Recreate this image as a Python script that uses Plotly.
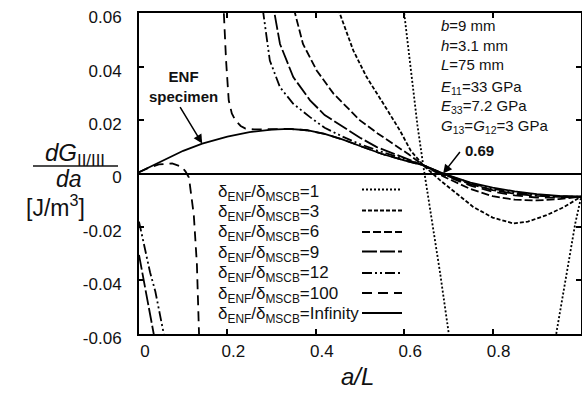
import plotly.graph_objects as go

N = None
# ---- data (a/L, dG/da) ----
x_r1 = [0.600, 0.615, 0.630, 0.643, 0.658, 0.681, 0.700, 0.706, N, 0.939, 0.945, 0.968, 0.987, 1.0]
y_r1 = [0.060, 0.038, 0.018, 0.0031, -0.0125, -0.037, -0.059, -0.066, N, -0.066, -0.059, -0.037, -0.0187, -0.0090]

x_r3 = [0.448, 0.454, 0.485, 0.515, 0.553, 0.590, 0.615, 0.643, 0.681, 0.720, 0.756, 0.800, 0.847, 0.880, 0.922, 0.960, 1.0]
y_r3 = [0.066, 0.060, 0.046, 0.0361, 0.0261, 0.0162, 0.0085, 0.0031, -0.0025, -0.0078, -0.0125, -0.0165, -0.0187, -0.0180, -0.0156, -0.0127, -0.0087]

x_r6 = [0.348, 0.353, 0.371, 0.402, 0.440, 0.500, 0.540, 0.575, 0.610, 0.643, 0.690, 0.750, 0.800, 0.850, 0.900, 0.950, 1.0]
y_r6 = [0.066, 0.060, 0.0485, 0.0386, 0.0299, 0.0199, 0.0150, 0.0112, 0.0072, 0.0031, -0.0012, -0.0058, -0.0085, -0.0098, -0.0101, -0.0096, -0.0087]

x_r9 = [0.0, 0.010, 0.020, 0.030, 0.034, 0.040, N, 0.300, 0.307, 0.319, 0.349, 0.387, 0.420, 0.462, 0.500, 0.538, 0.590, 0.643, 0.690, 0.750, 0.800, 0.850, 0.900, 0.950, 1.0]
y_r9 = [-0.0305, -0.039, -0.047, -0.056, -0.060, -0.066, N, 0.066, 0.060, 0.0485, 0.0361, 0.0274, 0.0219, 0.0174, 0.0134, 0.0099, 0.0065, 0.0031, -0.0004, -0.0040, -0.0062, -0.0076, -0.0084, -0.0087, -0.0087]

x_r12 = [0.0, 0.007, 0.0145, 0.025, 0.037, 0.046, 0.056, 0.062, N, 0.273, 0.281, 0.296, 0.319, 0.349, 0.387, 0.420, 0.462, 0.500, 0.538, 0.590, 0.643, 0.690, 0.750, 0.800, 0.850, 0.900, 0.950, 1.0]
y_r12 = [-0.018, -0.023, -0.0293, -0.037, -0.0442, -0.052, -0.060, -0.065, N, 0.070, 0.0597, 0.0423, 0.0323, 0.0261, 0.0211, 0.0171, 0.0137, 0.0110, 0.0087, 0.0060, 0.0031, -0.0002, -0.0036, -0.0057, -0.0071, -0.0080, -0.0085, -0.0087]

x_r100 = [0.0, 0.020, 0.045, 0.075, 0.097, 0.105, 0.113, 0.124, 0.131, 0.135, 0.138, N,
          0.190, 0.192, 0.197, 0.203, 0.210, 0.218, 0.230, 0.241, 0.260, 0.280, 0.300, 0.340, 0.380, 0.420, 0.460, 0.500, 0.550, 0.600, 0.643, 0.690, 0.750, 0.800, 0.850, 0.900, 0.950, 1.0]
y_r100 = [0.0005, 0.0020, 0.0034, 0.0038, 0.0025, 0.0008, -0.0015, -0.0156, -0.034, -0.060, -0.072, N,
          0.072, 0.060, 0.0423, 0.0274, 0.0225, 0.0199, 0.0178, 0.0168, 0.0165, 0.0165, 0.0166, 0.0167, 0.0162, 0.0148, 0.0128, 0.0103, 0.0073, 0.0049, 0.0031, -0.0007, -0.0045, -0.0068, -0.0082, -0.0090, -0.0090, -0.0087]

x_inf = [0.0, 0.050, 0.100, 0.143, 0.200, 0.250, 0.300, 0.340, 0.380, 0.420, 0.460, 0.500, 0.550, 0.600, 0.643, 0.690, 0.750, 0.800, 0.850, 0.900, 0.950, 1.0]
y_inf = [0.0005, 0.0045, 0.0085, 0.0112, 0.0138, 0.0155, 0.0164, 0.0167, 0.0162, 0.0148, 0.0128, 0.0103, 0.0073, 0.0049, 0.0031, -0.0001, -0.0034, -0.0053, -0.0067, -0.0077, -0.0084, -0.0087]

legend_labels = ["1", "3", "6", "9", "12", "100", "Infinity"]
x_ticks = [0, 0.2, 0.4, 0.6, 0.8]
x_ticktext = ["0", "0.2", "0.4", "0.6", "0.8"]
y_ticks = [-0.06, -0.04, -0.02, 0, 0.02, 0.04, 0.06]
y_ticktext = ["-0.06", "-0.04", "-0.02", "0", "0.02", "0.04", "0.06"]

series = [
    (x_r1, y_r1, "2px,2px"),
    (x_r3, y_r3, "4px,2px"),
    (x_r6, y_r6, "8px,3px"),
    (x_r9, y_r9, "15px,3px"),
    (x_r12, y_r12, "10px,3px,2px,3px,2px,3px"),
    (x_r100, y_r100, "10px,6px"),
    (x_inf, y_inf, "solid"),
]

W, H = 582, 394
PLOT_L, PLOT_R, PLOT_T, PLOT_B = 139, 581, 13, 334   # plot area in window pixels
L_M, R_M, T_M, B_M = PLOT_L, W - PLOT_R, PLOT_T, H - PLOT_B
PW, PH = PLOT_R - PLOT_L, PLOT_B - PLOT_T

def px_x(p):
    return (p - PLOT_L) / PW

def px_y(p):
    return (PLOT_B - p) / PH

fig = go.Figure()
for xs, ys, dash in series:
    fig.add_trace(go.Scatter(x=xs, y=ys, mode="lines", connectgaps=False,
                             line=dict(color="black", width=1.8, dash=dash),
                             showlegend=False, hoverinfo="skip"))

FONT = "Liberation Sans, Arial, sans-serif"
ann = []
shapes = []

# legend (text + line samples)
text_y = [192.5, 212.5, 233, 253.5, 274, 294.5, 315]
line_y = [189.5, 210.5, 232, 251.5, 273, 293, 313]
for lab, ty, ly, s in zip(legend_labels, text_y, line_y, series):
    ann.append(dict(x=px_x(216), y=px_y(ty), xref="paper", yref="paper",
                    text="δ<sub>ENF</sub>/δ<sub>MSCB</sub>=" + lab, showarrow=False,
                    xanchor="left", yanchor="middle",
                    font=dict(family=FONT, size=17, color="#111")))
    shapes.append(dict(type="line", xref="paper", yref="paper",
                       x0=px_x(362), x1=px_x(402), y0=px_y(ly), y1=px_y(ly),
                       line=dict(color="black", width=1.8, dash=s[2])))

# parameter block
params = ["<i>b</i>=9 mm", "<i>h</i>=3.1 mm", "<i>L</i>=75 mm",
          "<i>E</i><sub>11</sub>=33 GPa", "<i>E</i><sub>33</sub>=7.2 GPa",
          "<i>G</i><sub>13</sub>=<i>G</i><sub>12</sub>=3 GPa"]
for i, t in enumerate(params):
    yy = 25.5 + 19.6 * i
    ann.append(dict(x=px_x(439), y=px_y(yy + (3 if "<sub>" in t else 0)), xref="paper", yref="paper",
                    text=t, showarrow=False, xanchor="left", yanchor="middle",
                    font=dict(family=FONT, size=15, color="#111")))

# ENF specimen label + arrow
ann.append(dict(x=px_x(183), y=px_y(86), xref="paper", yref="paper",
                text="<b>ENF</b><br><b>specimen</b>", showarrow=False,
                xanchor="center", yanchor="middle",
                font=dict(family=FONT, size=15, color="#111")))
ann.append(dict(x=0.143, y=0.0112, xref="x", yref="y", text="", showarrow=True,
                ax=-23, ay=-38, arrowhead=2, arrowsize=1.2, arrowwidth=1.5, arrowcolor="black"))

# 0.69 label + arrow
ann.append(dict(x=px_x(463), y=px_y(150), xref="paper", yref="paper",
                text="<b>0.69</b>", showarrow=False, xanchor="left", yanchor="middle",
                font=dict(family=FONT, size=15, color="#111")))
ann.append(dict(x=0.688, y=0.0, xref="x", yref="y", text="", showarrow=True,
                ax=18, ay=-23, arrowhead=2, arrowsize=1.2, arrowwidth=1.5, arrowcolor="black"))

# y-axis title as a fraction
ann.append(dict(x=px_x(75), y=px_y(154), xref="paper", yref="paper",
                text="<i>dG</i><sub>II/III</sub>", showarrow=False, xanchor="center", yanchor="middle",
                font=dict(family=FONT, size=24, color="#111")))
shapes.append(dict(type="line", xref="paper", yref="paper",
                   x0=px_x(33), x1=px_x(118), y0=px_y(166), y1=px_y(166),
                   line=dict(color="#111", width=1.5)))
ann.append(dict(x=px_x(69), y=px_y(179), xref="paper", yref="paper",
                text="<i>da</i>", showarrow=False, xanchor="center", yanchor="middle",
                font=dict(family=FONT, size=23, color="#111")))
ann.append(dict(x=px_x(55), y=px_y(206), xref="paper", yref="paper",
                text="[J/m<sup>3</sup>]", showarrow=False, xanchor="center", yanchor="middle",
                font=dict(family=FONT, size=23, color="#111")))

# x-axis title
ann.append(dict(x=px_x(357), y=px_y(376), xref="paper", yref="paper",
                text="<i>a/L</i>", showarrow=False, xanchor="center", yanchor="middle",
                font=dict(family=FONT, size=24, color="#111")))

fig.update_layout(
    width=W, height=H,
    margin=dict(l=L_M, r=R_M, t=T_M, b=B_M, autoexpand=False),
    paper_bgcolor="white", plot_bgcolor="white",
    annotations=ann, shapes=shapes, showlegend=False,
    font=dict(family=FONT, color="#111"),
)
fig.update_xaxes(range=[0, 1.0], tickvals=x_ticks, ticktext=x_ticktext, automargin=False,
                 showline=True, linecolor="black", linewidth=2, mirror="ticks",
                 ticks="inside", ticklen=5, tickwidth=1.5, tickcolor="black",
                 showgrid=False, zeroline=False, ticklabelshift=6, ticklabelstandoff=1,
                 tickfont=dict(family=FONT, size=17, color="#111"))
fig.update_yaxes(range=[-0.0601, 0.0601], tickvals=y_ticks, ticktext=y_ticktext, automargin=False,
                 showline=True, linecolor="black", linewidth=2, mirror="ticks",
                 ticks="inside", ticklen=5, tickwidth=1.5, tickcolor="black",
                 showgrid=False, zeroline=True, zerolinecolor="black", zerolinewidth=1.8,
                 ticklabelshift=4, ticklabelstandoff=12,
                 tickfont=dict(family=FONT, size=17, color="#111"))

# remove the page's default body margin so the figure sits at the window origin
fig.write_html("out.html", config={"displayModeBar": False},
               post_script="document.body.style.margin='0';document.body.style.overflow='hidden';")
